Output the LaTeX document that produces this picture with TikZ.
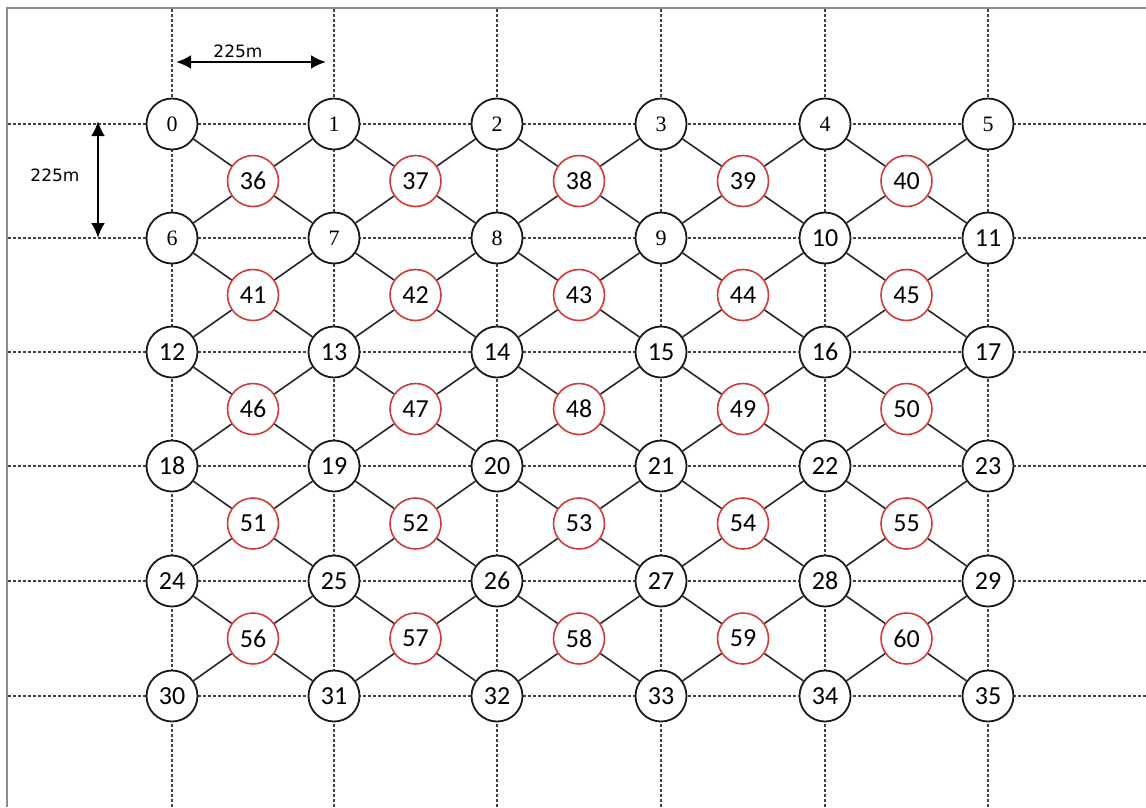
\documentclass[tikz,border=0pt]{standalone}
\usepackage{fontspec}
\newfontfamily\calib{Carlito}
\newfontfamily\dvs{DejaVu Sans}
\newfontfamily\smallser{Liberation Serif}
\usetikzlibrary{arrows.meta,calc}
\definecolor{rimred}{HTML}{D23A3A}
\begin{document}
\begin{tikzpicture}[x=1pt,y=-1pt,
 gridline/.style={dash pattern=on 3pt off 2pt, line width=1.2pt, black!75},
 frame/.style={line width=1.8pt, black!45},
 bnode/.style={circle, draw=black!90, line width=1.8pt, fill=white, minimum size=51pt, inner sep=0pt},
 rnode/.style={circle, draw=rimred, line width=1.6pt, fill=white, minimum size=51pt, inner sep=0pt, font=\calib\fontsize{26}{26}\selectfont},
 link/.style={line width=1.6pt, black!85},
 dimarrow/.style={line width=2.8pt, {Latex[length=15pt,width=14pt]}-{Latex[length=15pt,width=14pt]}},
 dimlabel/.style={font=\dvs\fontsize{17}{17}\selectfont, inner sep=0pt}
]
\useasboundingbox (0,0) rectangle (1146,807);
% frame
\draw[frame] (7,807) -- (7,8) -- (1146,8);
% dashed grid
\foreach \x in {172,334,497,661,825,988} \draw[gridline] (\x,9) -- (\x,807);
\foreach \y in {124,238,352,466,581,696} \draw[gridline] (8,\y) -- (1146,\y);
% black nodes
\foreach \r in {0,...,5} {
  \foreach \c in {0,...,5} {
    \pgfmathtruncatemacro{\n}{6*\r+\c}
    \pgfmathsetmacro{\px}{{172,334,497,661,825,988}[\c]}
    \pgfmathsetmacro{\py}{{124,238,352,466,581,696}[\r]}
    \ifnum\n<10
      \node[bnode, font=\smallser\fontsize{22}{22}\selectfont] (b\n) at (\px,\py) {\n};
    \else
      \node[bnode, font=\calib\fontsize{26}{26}\selectfont] (b\n) at (\px,\py) {\n};
    \fi
  }
}
% red nodes and links
\foreach \r in {0,...,4} {
  \foreach \c in {0,...,4} {
    \pgfmathtruncatemacro{\n}{36+5*\r+\c}
    \pgfmathtruncatemacro{\a}{6*\r+\c}
    \pgfmathtruncatemacro{\b}{6*\r+\c+1}
    \pgfmathtruncatemacro{\d}{6*\r+\c+6}
    \pgfmathtruncatemacro{\e}{6*\r+\c+7}
    \node[rnode] (r\n) at ($(b\a)!0.5!(b\e)$) {\n};
    \draw[link] (r\n) -- (b\a);
    \draw[link] (r\n) -- (b\b);
    \draw[link] (r\n) -- (b\d);
    \draw[link] (r\n) -- (b\e);
  }
}
% dimension arrows
\coordinate (h1) at (176,62);
\coordinate (h2) at (326,62);
\coordinate (v1) at (98,121);
\coordinate (v2) at (98,238);
\draw[dimarrow] (h1) -- (h2);
\draw[dimarrow] (v1) -- (v2);
\node[dimlabel] (hl) at (238,51) {225m};
\node[dimlabel] (vl) at (55,175) {225m};
\end{tikzpicture}
\end{document}
